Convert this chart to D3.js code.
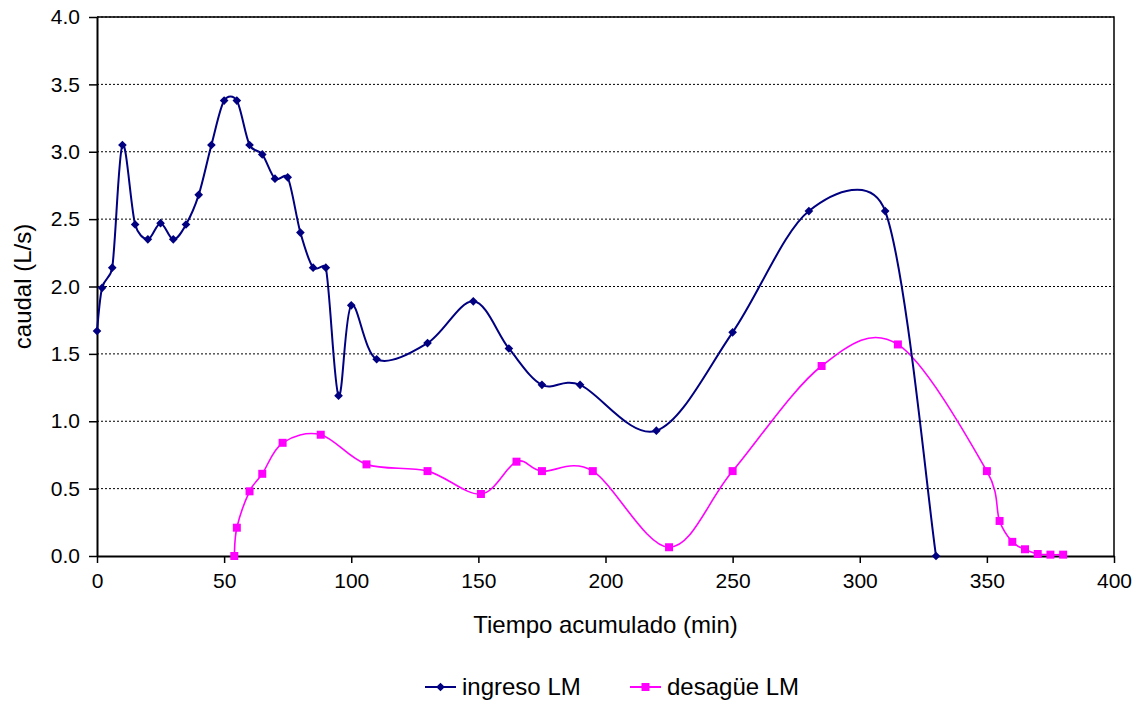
<!DOCTYPE html>
<html>
<head>
<meta charset="utf-8">
<script src="https://cdn.jsdelivr.net/npm/d3@7"></script>
<style>
  body { margin: 0; background: #fff; }
  svg { display: block; font-family: "Liberation Sans", Arial, sans-serif; }
</style>
</head>
<body>
<svg id="chart"></svg>
<script>
// ingreso LM: tiempo (min) y caudal (L/s)
var ingresoT = [0, 2, 6, 10, 15, 20, 25, 30, 35, 40, 45, 50, 55, 60, 65, 70, 75, 80, 85, 90,
                95, 100, 110, 130, 148, 162, 175, 190, 220, 250, 280, 310, 330];
var ingresoQ = [1.67, 1.99, 2.14, 3.05, 2.46, 2.35, 2.47, 2.35, 2.46, 2.68, 3.05, 3.38, 3.38, 3.05, 2.98, 2.80, 2.81, 2.40, 2.14, 2.14,
                1.19, 1.86, 1.46, 1.58, 1.89, 1.54, 1.27, 1.27, 0.93, 1.66, 2.56, 2.56, 0.0];

// desagüe LM
var desagueT = [54, 55, 60, 65, 73, 88, 106, 130, 151, 165, 175, 195, 225, 250, 285, 315,
                350, 355, 360, 365, 370, 375, 380];
var desagueQ = [0.0, 0.21, 0.48, 0.61, 0.84, 0.90, 0.68, 0.63, 0.46, 0.70, 0.63, 0.63, 0.065, 0.63, 1.41, 1.57,
                0.63, 0.26, 0.105, 0.05, 0.015, 0.01, 0.01];

var xTicks = [0, 50, 100, 150, 200, 250, 300, 350, 400];
var yTicks = [0, 0.5, 1.0, 1.5, 2.0, 2.5, 3.0, 3.5, 4.0];

var width = 1139, height = 704;
var margin = {top: 17, right: 25, bottom: 148, left: 97};
var w = width - margin.left - margin.right;
var h = height - margin.top - margin.bottom;

var svg = d3.select('#chart').attr('width', width).attr('height', height);
var g = svg.append('g').attr('transform', 'translate(' + margin.left + ',' + margin.top + ')');

var x = d3.scaleLinear().domain([0, 400]).range([0, w]);
var y = d3.scaleLinear().domain([0, 4]).range([h, 0]);

// dotted gridlines
g.selectAll('line.grid')
  .data(yTicks.slice(1))
  .enter().append('line')
  .attr('class', 'grid')
  .attr('x1', 0).attr('x2', w)
  .attr('y1', d => y(d)).attr('y2', d => y(d))
  .attr('stroke', '#000')
  .attr('stroke-width', 1)
  .attr('stroke-dasharray', '2,2');

// frame top and right
g.append('path')
  .attr('d', 'M0,0H' + w + 'V' + h)
  .attr('fill', 'none')
  .attr('stroke', '#000')
  .attr('stroke-width', 1.5);

// axes
var xAxis = g.append('g')
  .attr('transform', 'translate(0,' + h + ')')
  .call(d3.axisBottom(x).tickValues(xTicks).tickSize(7).tickPadding(10).tickSizeOuter(0));
var yAxis = g.append('g')
  .call(d3.axisLeft(y).tickValues(yTicks).tickFormat(d3.format('.1f')).tickSize(8).tickPadding(9).tickSizeOuter(0));

[xAxis, yAxis].forEach(function (a) {
  a.select('.domain').attr('stroke', '#000').attr('stroke-width', 2);
  a.selectAll('.tick line').attr('stroke', '#000').attr('stroke-width', 1.5);
  a.selectAll('.tick text').attr('fill', '#000').style('font-size', '21px')
    .style('font-family', '"Liberation Sans", Arial, sans-serif');
});

// spreadsheet-style smoothed line: bezier with 1/6 tangents,
// control arms limited to half the segment length
function smoothPath(pts) {
  var p = pts.map(d => [x(d[0]), y(d[1])]);
  var dist = (a, b) => Math.hypot(b[0] - a[0], b[1] - a[1]);
  var s = 'M' + p[0][0] + ',' + p[0][1];
  for (var i = 0; i < p.length - 1; i++) {
    var p0 = p[Math.max(i - 1, 0)], p1 = p[i], p2 = p[i + 1], p3 = p[Math.min(i + 2, p.length - 1)];
    var d12 = dist(p1, p2);
    var f1 = 1 / 6, f2 = 1 / 6;
    var d02 = dist(p0, p2), d13 = dist(p1, p3);
    if (d02 * f1 > d12 / 2) f1 = d12 / 2 / d02;
    if (d13 * f2 > d12 / 2) f2 = d12 / 2 / d13;
    var c1 = [p1[0] + f1 * (p2[0] - p0[0]), p1[1] + f1 * (p2[1] - p0[1])];
    var c2 = [p2[0] - f2 * (p3[0] - p1[0]), p2[1] - f2 * (p3[1] - p1[1])];
    s += 'C' + c1[0] + ',' + c1[1] + ' ' + c2[0] + ',' + c2[1] + ' ' + p2[0] + ',' + p2[1];
  }
  return s;
}

var ingreso = ingresoT.map((t, i) => [t, ingresoQ[i]]);
var desague = desagueT.map((t, i) => [t, desagueQ[i]]);

g.append('path')
  .datum(desague)
  .attr('fill', 'none')
  .attr('stroke', '#ff00ff')
  .attr('stroke-width', 1.6)
  .attr('d', smoothPath);

g.append('path')
  .datum(ingreso)
  .attr('fill', 'none')
  .attr('stroke', '#000080')
  .attr('stroke-width', 2)
  .attr('d', smoothPath);

var diamond = d3.symbol().type(d3.symbolDiamond2).size(48);
var square = d3.symbol().type(d3.symbolSquare).size(64);

g.selectAll('path.sq')
  .data(desague)
  .enter().append('path')
  .attr('class', 'sq')
  .attr('transform', d => 'translate(' + x(d[0]) + ',' + y(d[1]) + ')')
  .attr('d', square)
  .attr('fill', '#ff00ff');

g.selectAll('path.dm')
  .data(ingreso)
  .enter().append('path')
  .attr('class', 'dm')
  .attr('transform', d => 'translate(' + x(d[0]) + ',' + y(d[1]) + ')')
  .attr('d', diamond)
  .attr('fill', '#000080');

// axis titles
svg.append('text')
  .attr('x', margin.left + w / 2)
  .attr('y', 633)
  .attr('text-anchor', 'middle')
  .style('font-size', '24px')
  .text('Tiempo acumulado (min)');

svg.append('text')
  .attr('transform', 'translate(31,' + (margin.top + h / 2) + ') rotate(-90)')
  .attr('text-anchor', 'middle')
  .style('font-size', '24px')
  .text('caudal (L/s)');

// legend
var legend = [
  {name: 'ingreso LM', color: '#000080', sym: diamond, x: 425},
  {name: 'desagüe LM', color: '#ff00ff', sym: square, x: 630}
];
var lg = svg.selectAll('g.legend')
  .data(legend)
  .enter().append('g')
  .attr('class', 'legend')
  .attr('transform', d => 'translate(' + d.x + ',687)');
lg.append('line')
  .attr('x1', 0).attr('x2', 31)
  .attr('stroke', d => d.color)
  .attr('stroke-width', 2);
lg.append('path')
  .attr('transform', 'translate(15.5,0)')
  .attr('d', d => d.sym())
  .attr('fill', d => d.color);
lg.append('text')
  .attr('x', 37)
  .attr('y', 8)
  .style('font-size', '24px')
  .text(d => d.name);
</script>
</body>
</html>
